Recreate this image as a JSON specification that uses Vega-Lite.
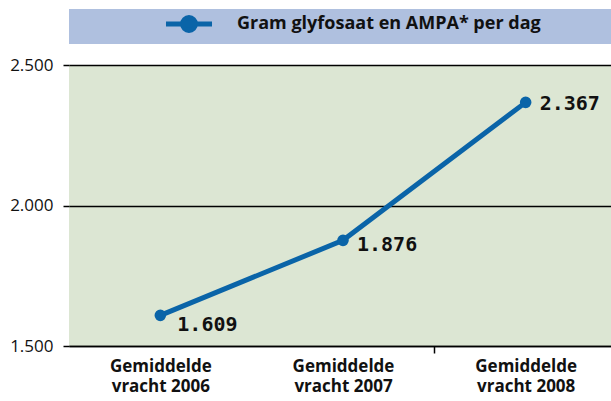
{
  "$schema": "https://vega.github.io/schema/vega-lite/v6.json",
  "width": 542,
  "height": 281,
  "autosize": "none",
  "padding": {"left": 69, "top": 65, "right": 0, "bottom": 55},
  "background": "white",
  "config": {
    "view": {"fill": "#dce6d3", "stroke": null},
    "font": "Open Sans"
  },
  "data": {
    "values": [
      {"periode": "Gemiddelde vracht 2006", "gram": 1609, "reeks": "Gram glyfosaat en AMPA* per dag"},
      {"periode": "Gemiddelde vracht 2007", "gram": 1876, "reeks": "Gram glyfosaat en AMPA* per dag"},
      {"periode": "Gemiddelde vracht 2008", "gram": 2367, "reeks": "Gram glyfosaat en AMPA* per dag"}
    ]
  },
  "transform": [
    {"calculate": "replace(format(datum.gram, ','), ',', '.')", "as": "label"}
  ],
  "encoding": {
    "x": {
      "field": "periode", "type": "nominal", "sort": null,
      "scale": {"type": "band", "paddingInner": 0, "paddingOuter": 0, "range": [0, 548]},
      "axis": {
        "title": null, "labelAngle": 0, "domainColor": "#000", "domainWidth": 1.5,
        "tickBand": "extent", "tickSize": 7, "tickWidth": 1.5,
        "tickColor": {"condition": {"test": "datum.value !== 'Gemiddelde vracht 2007' && datum.value !== 'Gemiddelde vracht 2008'", "value": "transparent"}, "value": "#000"},
        "labelFont": "Open Sans", "labelFontWeight": "bold", "labelFontSize": 17, "labelColor": "#111",
        "labelLineHeight": 20, "labelPadding": 5, "labelBaseline": "top",
        "labelExpr": "indexof(datum.label, 'vracht') >= 0 ? ['Gemiddelde', replace(datum.label, 'Gemiddelde ', '')] : ''",
        "grid": false
      }
    },
    "y": {
      "field": "gram", "type": "quantitative",
      "scale": {"domain": [1500, 2500], "nice": false, "zero": false},
      "axis": {
        "title": null, "values": [1500, 2000, 2500], "domain": false,
        "tickColor": "#000", "tickSize": 6, "tickWidth": 1.5,
        "grid": true, "gridColor": "#000", "gridWidth": 1.5, "gridOpacity": 1,
        "labelFont": "Open Sans", "labelFontSize": 17, "labelColor": "#111", "labelPadding": 10,
        "labelExpr": "replace(format(datum.value, ','), ',', '.')"
      }
    }
  },
  "layer": [
    {
      "mark": {"type": "line", "strokeWidth": 5, "color": "#0a64a8"},
      "encoding": {
        "color": {
          "field": "reeks", "type": "nominal",
          "scale": {"range": ["#0a64a8"]},
          "legend": {
            "title": ".", "titleOrient": "right", "titlePadding": 80, "titleColor": "transparent", "titleFontSize": 10,
            "orient": "none", "legendX": 0, "legendY": -56,
            "fillColor": "#afc0df", "padding": 3,
            "symbolType": "M-2.5,0H2.5M-0.7,0A0.7,0.7,0,1,1,0.7,0A0.7,0.7,0,1,1,-0.7,0",
            "symbolSize": 339, "symbolStrokeWidth": 5, "symbolOffset": 105, "labelOffset": 36,
            "labelFont": "Open Sans", "labelFontWeight": "bold", "labelFontSize": 18, "labelColor": "#111",
            "labelLimit": 2000,
            "encode": {
              "symbols": {"update": {"fill": {"value": "#0a64a8"}, "stroke": {"value": "#0a64a8"}, "strokeWidth": {"value": 5}, "opacity": {"value": 1}}}
            }
          }
        }
      }
    },
    {
      "mark": {"type": "point", "filled": true, "size": 135, "color": "#0a64a8", "opacity": 1}
    },
    {
      "transform": [{"filter": "datum.periode === 'Gemiddelde vracht 2006'"}],
      "mark": {"type": "text", "align": "left", "baseline": "middle", "dx": 17, "dy": 10, "font": "DejaVu Sans Mono", "fontWeight": "bold", "fontSize": 20, "color": "#111"},
      "encoding": {"text": {"field": "label"}}
    },
    {
      "transform": [{"filter": "datum.periode === 'Gemiddelde vracht 2007'"}],
      "mark": {"type": "text", "align": "left", "baseline": "middle", "dx": 14, "dy": 5, "font": "DejaVu Sans Mono", "fontWeight": "bold", "fontSize": 20, "color": "#111"},
      "encoding": {"text": {"field": "label"}}
    },
    {
      "transform": [{"filter": "datum.periode === 'Gemiddelde vracht 2008'"}],
      "mark": {"type": "text", "align": "left", "baseline": "middle", "dx": 14, "dy": 2, "font": "DejaVu Sans Mono", "fontWeight": "bold", "fontSize": 20, "color": "#111"},
      "encoding": {"text": {"field": "label"}}
    }
  ]
}
